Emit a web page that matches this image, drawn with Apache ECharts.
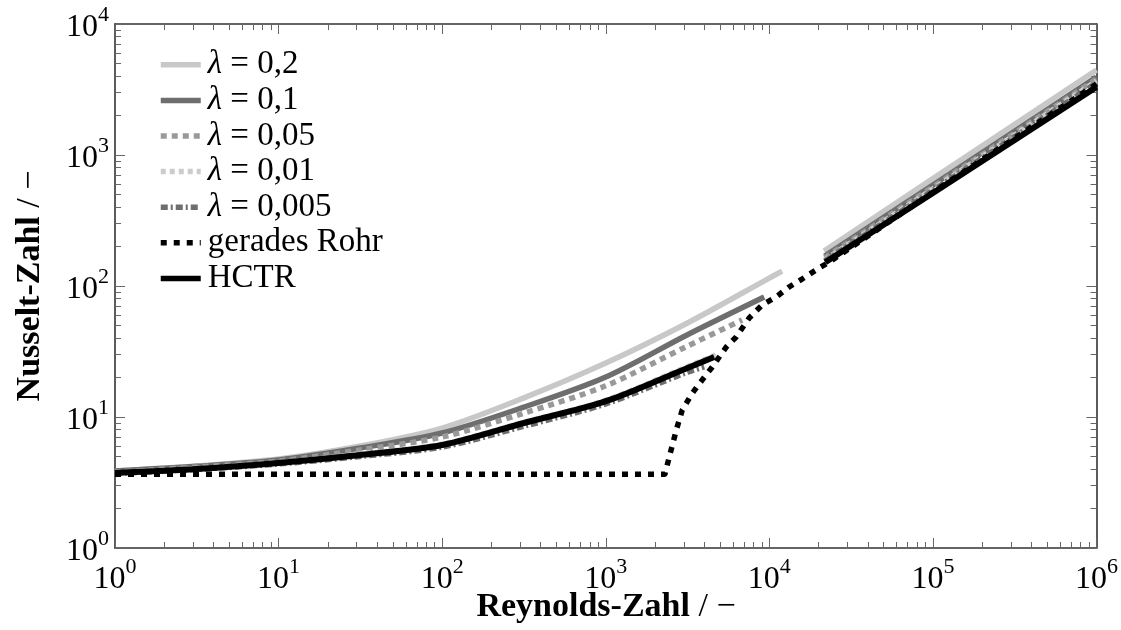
<!DOCTYPE html>
<html>
<head>
<meta charset="utf-8">
<script src="https://cdn.jsdelivr.net/npm/echarts@6/dist/echarts.min.js"></script>
<style>
  html, body { margin: 0; padding: 0; background: #ffffff; }
  #chart { width: 1121px; height: 630px; }
</style>
</head>
<body>
<div id="chart"></div>
<script>
// Nusselt number over Reynolds number: helically coiled tube (various curvature ratios λ),
// straight tube and HCTR. Each curve: laminar branch, then turbulent branch.

const lam02LamRe = [1, 3.16, 10, 31.6, 100, 316, 1000, 3160, 10000, 11970];
const lam02LamNu = [3.87, 4.23, 4.78, 6.01, 8.24, 14.0, 25.8, 52.2, 115, 130];
const lam02TurbRe = [21600, 100000, 1000000];
const lam02TurbNu = [185, 660, 4456];

const lam01LamRe = [1, 3.16, 10, 31.6, 100, 316, 1000, 3160, 9300];
const lam01LamNu = [3.87, 4.2, 4.70, 5.8, 7.55, 11.9, 20.2, 42.5, 82.4];
const lam01TurbRe = [21800, 100000, 1000000];
const lam01TurbNu = [169, 590, 3940];

const lam005LamRe = [1, 3.16, 10, 31.6, 100, 316, 1000, 3160, 6820];
const lam005LamNu = [3.80, 4.15, 4.61, 5.6, 7.04, 10.7, 17.3, 34.8, 55.0];
const lam005TurbRe = [21800, 100000, 1000000];
const lam005TurbNu = [164, 570, 3800];

const lam001LamRe = [1, 3.16, 10, 31.6, 100, 316, 1000, 3160, 4800];
const lam001LamNu = [3.76, 4.05, 4.48, 5.2, 6.2, 9.1, 13.4, 24.2, 30.0];
const lam001TurbRe = [21800, 100000, 1000000];
const lam001TurbNu = [158, 550, 3670];

const lam0005LamRe = [1, 3.16, 10, 31.6, 100, 316, 1000, 3160, 4000];
const lam0005LamNu = [3.70, 3.98, 4.38, 5.0, 5.90, 8.5, 12.6, 22.0, 24.1];
const lam0005TurbRe = [21800, 100000, 1000000];
const lam0005TurbNu = [155, 535, 3545];

const straightRe = [1, 2300, 2445, 2700, 2935, 3380, 3890, 4480, 5450, 6270, 7530, 9040,
                    11000, 13200, 15850, 20100, 23200, 100000, 1000000];
const straightNu = [3.66, 3.66, 4.95, 7.96, 11.3, 15.2, 19.2, 24.1, 34.2, 40.8, 57.0, 71.6,
                    82.4, 98.3, 113, 137, 152, 520, 3480];

const hctrLamRe = [1, 3.16, 10, 31.6, 100, 316, 1000, 3160, 4600];
const hctrLamNu = [3.74, 4.01, 4.46, 5.13, 6.11, 9.0, 13.2, 23.7, 28.7];
const hctrTurbRe = [22000, 100000, 1000000];
const hctrTurbNu = [152, 513, 3305];

const seriesNames = ['λ = 0,2', 'λ = 0,1', 'λ = 0,05', 'λ = 0,01', 'λ = 0,005', 'gerades Rohr', 'HCTR'];

const xMajor = [1, 10, 100, 1000, 10000, 100000, 1000000];
const yMajor = [1, 10, 100, 1000, 10000];

function minorTicks(maxDecade) {
  const out = [];
  for (let d = 0; d < maxDecade; d++) {
    for (let m = 2; m <= 9; m++) out.push(m * Math.pow(10, d));
  }
  return out;
}
const xMinor = minorTicks(6);
const yMinor = minorTicks(4);

function pairs(re, nu) { return re.map((r, i) => [r, nu[i]]); }

const SERIF = '"Liberation Serif", "DejaVu Serif", serif';

function lineSeries(name, re, nu, style, smooth) {
  return {
    type: 'line',
    name: name,
    data: pairs(re, nu),
    symbol: 'none',
    smooth: smooth,
    silent: true,
    itemStyle: { color: style.color },
    lineStyle: Object.assign({ cap: 'butt', join: 'round' }, style)
  };
}

const sLam02 = { color: '#c8c8c8', width: 5.5 };
const sLam01 = { color: '#6e6e6e', width: 5.5 };
const sLam005 = { color: '#999999', width: 5.5, type: [6, 5] };
const sLam001 = { color: '#cccccc', width: 5.5, type: [5, 4] };
const sLam0005 = { color: '#6e6e6e', width: 5.5, type: [7, 3, 2, 3] };
const sStraight = { color: '#000000', width: 5.5, type: [6, 7] };
const sHctr = { color: '#000000', width: 6 };

const SM = 0.3;
const series = [
  lineSeries(seriesNames[0], lam02LamRe, lam02LamNu, sLam02, SM),
  lineSeries(seriesNames[0], lam02TurbRe, lam02TurbNu, sLam02, false),
  lineSeries(seriesNames[1], lam01LamRe, lam01LamNu, sLam01, SM),
  lineSeries(seriesNames[1], lam01TurbRe, lam01TurbNu, sLam01, false),
  lineSeries(seriesNames[2], lam005LamRe, lam005LamNu, sLam005, SM),
  lineSeries(seriesNames[2], lam005TurbRe, lam005TurbNu, sLam005, false),
  lineSeries(seriesNames[3], lam001LamRe, lam001LamNu, sLam001, SM),
  lineSeries(seriesNames[3], lam001TurbRe, lam001TurbNu, sLam001, false),
  lineSeries(seriesNames[4], lam0005LamRe, lam0005LamNu, sLam0005, SM),
  lineSeries(seriesNames[4], lam0005TurbRe, lam0005TurbNu, sLam0005, false),
  lineSeries(seriesNames[5], straightRe, straightNu, sStraight, false),
  lineSeries(seriesNames[6], hctrLamRe, hctrLamNu, sHctr, SM),
  lineSeries(seriesNames[6], hctrTurbRe, hctrTurbNu, sHctr, false)
];

const powRich = {
  b: { fontFamily: SERIF, fontSize: 32, color: '#000', lineHeight: 40, verticalAlign: 'bottom' },
  s: { fontFamily: SERIF, fontSize: 22, color: '#000', lineHeight: 22, verticalAlign: 'top' }
};
function powLabel(v) {
  const e = Math.round(Math.log10(v));
  return '{b|10}{s|' + e + '}';
}

const AXIS_COLOR = '#333333';
const TICK_COLOR = '#666666';

function logAxis(kind, pos, min, max, ticks, tickLen, withLine, withLabel) {
  const ax = {
    type: 'log',
    logBase: 10,
    gridIndex: 0,
    position: pos,
    min: min,
    max: max,
    axisLine: { show: withLine, onZero: false, lineStyle: { color: AXIS_COLOR, width: 1.6 } },
    axisTick: { show: true, inside: true, length: tickLen, customValues: ticks,
                lineStyle: { color: TICK_COLOR, width: 1 } },
    axisLabel: { show: withLabel },
    splitLine: { show: false },
    minorTick: { show: false },
    minorSplitLine: { show: false }
  };
  if (withLabel) {
    ax.axisLabel = {
      show: true,
      customValues: ticks,
      formatter: powLabel,
      rich: powRich,
      margin: kind === 'x' ? 8 : 6
    };
  }
  return ax;
}

const titleRich = {
  b: { fontFamily: SERIF, fontSize: 34, fontWeight: 'bold', fill: '#000' },
  r: { fontFamily: SERIF, fontSize: 34, fill: '#000' }
};

const chart = echarts.init(document.getElementById('chart'), null, { renderer: 'canvas' });

chart.setOption({
  animation: false,
  backgroundColor: '#ffffff',
  grid: { left: 115, right: 23, top: 24, bottom: 82, containLabel: false },
  xAxis: [
    logAxis('x', 'bottom', 1, 1e6, xMajor, 10, true, true),
    logAxis('x', 'top', 1, 1e6, xMajor, 10, true, false),
    logAxis('x', 'bottom', 1, 1e6, xMinor, 6, false, false),
    logAxis('x', 'top', 1, 1e6, xMinor, 6, false, false)
  ],
  yAxis: [
    logAxis('y', 'left', 1, 1e4, yMajor, 10, true, true),
    logAxis('y', 'right', 1, 1e4, yMajor, 10, true, false),
    logAxis('y', 'left', 1, 1e4, yMinor, 6, false, false),
    logAxis('y', 'right', 1, 1e4, yMinor, 6, false, false)
  ],
  legend: {
    show: true,
    orient: 'vertical',
    left: 153,
    top: 42,
    itemWidth: 40,
    itemHeight: 14,
    itemGap: 0,
    selectedMode: false,
    data: seriesNames,
    itemStyle: { color: 'rgba(0,0,0,0)', borderWidth: 0, opacity: 0 },
    lineStyle: { width: 5.5, cap: 'butt' },
    formatter: function (name) {
      if (name.charAt(0) === 'λ') return '{i|λ}{t|' + name.slice(1) + '}';
      return '{t|' + name + '}';
    },
    textStyle: {
      fontFamily: SERIF,
      fontSize: 33,
      color: '#000',
      lineHeight: 35.6,
      padding: [0, 0, 0, 2],
      rich: {
        i: { fontFamily: SERIF, fontStyle: 'italic', fontSize: 33, color: '#000', lineHeight: 35.6 },
        t: { fontFamily: SERIF, fontSize: 33, color: '#000', lineHeight: 35.6 }
      }
    }
  },
  graphic: [
    {
      type: 'text',
      x: 606,
      y: 607,
      silent: true,
      style: {
        text: '{b|Reynolds-Zahl}{r| / −}',
        align: 'center',
        verticalAlign: 'middle',
        rich: titleRich
      }
    },
    {
      type: 'text',
      x: 30,
      y: 286,
      rotation: Math.PI / 2,
      silent: true,
      style: {
        text: '{b|Nusselt-Zahl}{r| / −}',
        align: 'center',
        verticalAlign: 'middle',
        rich: titleRich
      }
    }
  ],
  series: series
});
</script>
</body>
</html>
